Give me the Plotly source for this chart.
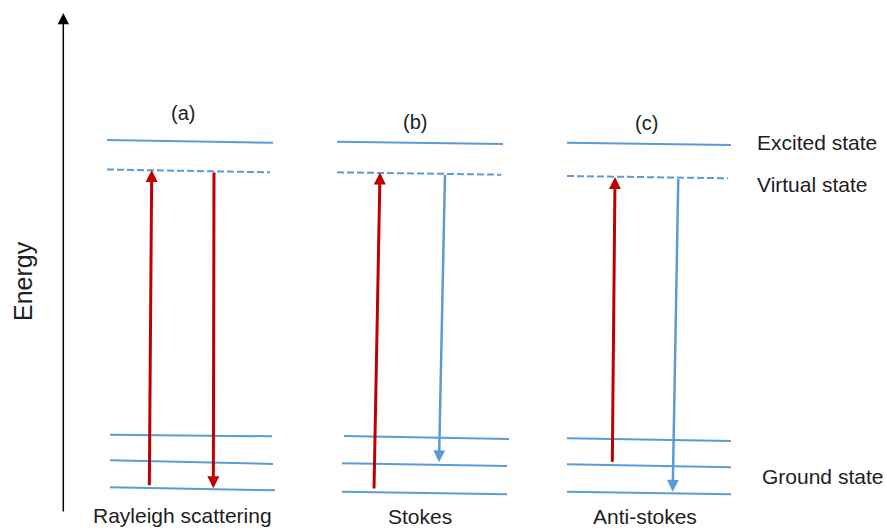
import plotly.graph_objects as go

# ---------------- data (diagram units: x right, y down, same size as the page) ----------
panels = ["(a)", "(b)", "(c)"]
processes = ["Rayleigh scattering", "Stokes", "Anti-stokes"]
states = ["Excited state", "Virtual state", "Ground state"]
axis_title = "Energy"

# level lines: (x start, x end, y start, y end)
excited_levels = [(107, 273, 140.0, 142.7), (337, 503, 141.7, 144.0), (567, 731, 142.7, 145.0)]
virtual_levels = [(107, 270, 169.5, 172.3), (337, 501, 172.3, 174.7), (567, 728, 176.0, 178.3)]
ground_levels = [
    [(110, 272, 434.7, 436.3), (110, 273, 460.3, 464.0), (110, 275, 487.3, 490.3)],
    [(344, 509, 436.0, 439.0), (342, 507, 463.3, 466.0), (342, 507, 491.7, 494.3)],
    [(567, 731, 438.3, 441.0), (567, 731, 464.3, 467.3), (567, 731, 491.7, 494.3)],
]

# transitions: (tail x, tail y, head x, head y)
incident_arrows = [(149.3, 486.7, 151.7, 170.0), (374.0, 490.0, 380.0, 172.5), (612.3, 463.3, 615.0, 177.0)]
scattered_arrows = [(214.0, 171.0, 213.3, 488.3), (445.0, 173.5, 439.0, 462.3), (678.3, 177.5, 672.7, 491.7)]
scattered_kind = ["red", "blue", "blue"]

# energy axis: (x, bottom y, top y)
energy_axis = (63.3, 513.0, 13.0)

# label anchor positions
panel_label_pos = [(183, 113), (415, 122), (646, 123)]
process_label_pos = [(182.5, 515), (419.5, 516), (645, 516)]
state_label_pos = [(755, 142), (755, 184), (760, 476)]
energy_label_pos = (23, 281)

# ---------------- style ----------------
BLUE = "#5B9BD5"
RED = "#C00000"
TEXT = "#1e1e1e"
FONT = "Liberation Sans, Arial, sans-serif"
W, H = 887, 530

fig = go.Figure()


def level(seg, dash=None):
    x0, x1, y0, y1 = seg
    fig.add_trace(go.Scatter(
        x=[x0, x1], y=[y0, y1], mode="lines",
        line=dict(color=BLUE, width=2, dash=dash),
        hoverinfo="skip", showlegend=False))


for i in range(len(panels)):
    level(excited_levels[i])
    level(virtual_levels[i], dash="7px,3px")
    for g in ground_levels[i]:
        level(g)

annotations = []


def arrow(seg, color, width, size):
    tx, ty, hx, hy = seg
    annotations.append(dict(
        x=hx, y=hy, ax=tx, ay=ty, xref="x", yref="y", axref="x", ayref="y",
        text="", showarrow=True, arrowhead=2, arrowsize=size, arrowwidth=width,
        arrowcolor=color, standoff=0, startstandoff=0))


for i in range(len(panels)):
    arrow(incident_arrows[i], RED, 3, 0.8)
    if scattered_kind[i] == "red":
        arrow(scattered_arrows[i], RED, 3, 0.8)
    else:
        arrow(scattered_arrows[i], BLUE, 2.5, 0.95)

ex, eb, et = energy_axis
arrow((ex, eb, ex, et), "#000000", 1.5, 1.5)


def label(txt, pos, xanchor="center", size=21, angle=0):
    annotations.append(dict(
        x=pos[0], y=pos[1], xref="x", yref="y", text=txt, showarrow=False,
        xanchor=xanchor, yanchor="middle", textangle=angle,
        font=dict(family=FONT, size=size, color=TEXT)))


for i in range(len(panels)):
    label(panels[i], panel_label_pos[i], size=20)
    label(processes[i], process_label_pos[i])
for s, p in zip(states, state_label_pos):
    label(s, p, xanchor="left")
label(axis_title, energy_label_pos, size=25, angle=-90)

fig.update_layout(
    width=W, height=H, margin=dict(l=0, r=0, t=0, b=0),
    paper_bgcolor="white", plot_bgcolor="white",
    xaxis=dict(range=[0, W], visible=False, fixedrange=True),
    yaxis=dict(range=[H, 0], visible=False, fixedrange=True),
    annotations=annotations, showlegend=False,
)

fig.write_html("out.html")
